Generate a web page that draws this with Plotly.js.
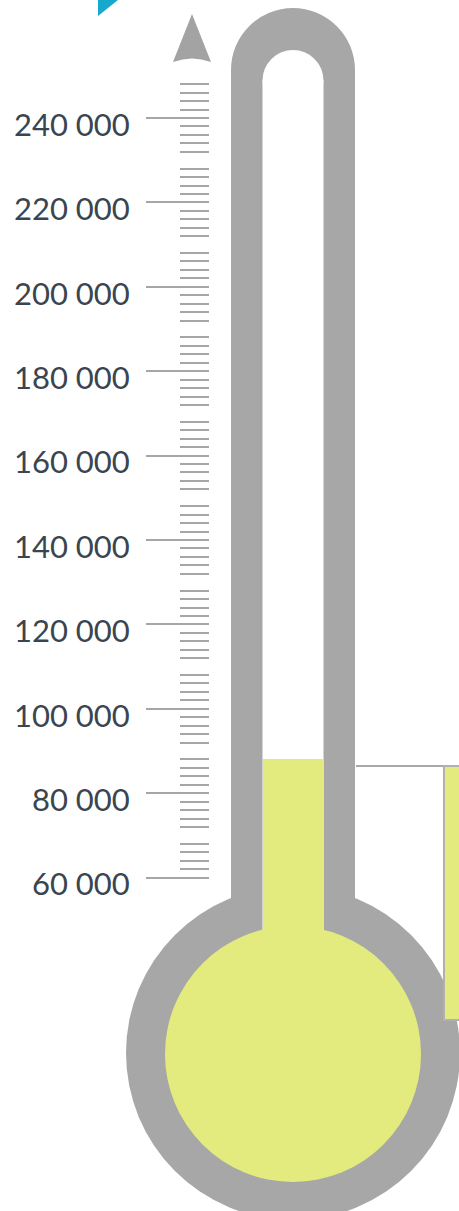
<!DOCTYPE html>
<html>
<head>
<meta charset="utf-8">
<script src="https://cdn.plot.ly/plotly-3.0.1.min.js"></script>
<style>html,body{margin:0;padding:0;background:#fff;}#chart{width:459px;height:1211px;}</style>
</head>
<body>
<div id="chart"></div>
<script>
// ---- data ----
const categories = ['Raised'];
const values = [88000];
const tickValues = [60000, 80000, 100000, 120000, 140000, 160000, 180000, 200000, 220000, 240000];
const tickLabels = ['60 000', '80 000', '100 000', '120 000', '140 000', '160 000', '180 000', '200 000', '220 000', '240 000'];

// ---- layout helpers ----
const W = 459, H = 1211;
const pxPerUnit = 84.4 / 20000;
const yAt240 = 118;
const vTop = 240000 + yAt240 / pxPerUnit;
const vBottom = 240000 - (H - yAt240) / pxPerUnit;
const baseValue = 30000;

const gray = '#a7a7a7';
const yellow = '#e3eb7f';
const tickGray = '#a6a6a6';

const minorVals = [], mediumVals = [];
for (let v = 62000; v <= 250000; v += 2000) {
  if (v % 20000 === 0) continue;
  if (v % 10000 === 0) mediumVals.push(v); else minorVals.push(v);
}

const axisPos = 209 / W;

const trace = {
  type: 'bar',
  x: [293],
  y: values.map(v => v - baseValue),
  base: [baseValue],
  width: [61],
  name: categories[0],
  marker: {color: yellow, line: {width: 0}},
  xaxis: 'x', yaxis: 'y',
  hoverinfo: 'skip'
};

const S = (o) => Object.assign({xref: 'x', yref: 'y3', layer: 'below'}, o);

const shapes = [
  // blue corner
  S({type: 'path', path: 'M98,0 L118,0 L98,16 Z', fillcolor: '#17a9cd', line: {width: 0}}),
  // arrow
  S({type: 'path', path: 'M173,62 L192,14 L211,62 Q192,55 173,62 Z', fillcolor: '#a3a3a3', line: {width: 0}}),
  // outer thermometer body
  S({type: 'circle', x0: 231, x1: 355, y0: 8, y1: 132, fillcolor: gray, line: {width: 0}}),
  S({type: 'rect', x0: 231, x1: 355, y0: 70, y1: 1000, fillcolor: gray, line: {width: 0}}),
  S({type: 'circle', x0: 126, x1: 460, y0: 886, y1: 1220, fillcolor: gray, line: {width: 0}}),
  // inner tube
  S({type: 'circle', x0: 262.5, x1: 323.5, y0: 50, y1: 111, fillcolor: '#ffffff', line: {width: 0}}),
  S({type: 'rect', x0: 262.5, x1: 323.5, y0: 80.5, y1: 960, fillcolor: '#ffffff', line: {width: 0}}),
  // bulb
  S({type: 'circle', x0: 165, x1: 421, y0: 926, y1: 1182, fillcolor: yellow, line: {width: 0}, layer: 'above'}),
  // connector + callout box
  S({type: 'line', x0: 356, x1: 444, y0: 766, y1: 766, line: {color: '#a9a9a9', width: 2}, layer: 'above'}),
  S({type: 'rect', x0: 444, x1: 475, y0: 766, y1: 1020, fillcolor: yellow, line: {color: '#b0b0b0', width: 2}, layer: 'above'})
];

const layout = {
  width: W, height: H,
  margin: {l: 0, r: 0, t: 0, b: 0, pad: 0},
  paper_bgcolor: '#ffffff', plot_bgcolor: 'rgba(0,0,0,0)',
  showlegend: false,
  bargap: 0,
  xaxis: {range: [0, W], visible: false, fixedrange: true},
  yaxis: {
    range: [vBottom, vTop], anchor: 'free', position: axisPos, side: 'left',
    showgrid: false, zeroline: false, showline: false, fixedrange: true,
    tickmode: 'array', tickvals: tickValues, ticktext: tickLabels,
    ticks: 'outside', ticklen: 63, tickwidth: 2, tickcolor: tickGray,
    ticklabelstandoff: 10, ticklabelshift: 7,
    tickfont: {family: 'Lato, "Open Sans", sans-serif', size: 31, color: '#3b4550'},
    minor: {tickmode: 'array', tickvals: minorVals, ticks: 'outside', ticklen: 29, tickwidth: 2, tickcolor: tickGray, showgrid: false}
  },
  yaxis2: {
    range: [vBottom, vTop], overlaying: 'y', anchor: 'free', position: axisPos, side: 'left',
    showgrid: false, zeroline: false, showline: false, fixedrange: true,
    tickmode: 'array', tickvals: mediumVals, showticklabels: false,
    ticks: 'outside', ticklen: 37, tickwidth: 2, tickcolor: tickGray
  },
  yaxis3: {range: [H, 0], overlaying: 'y', visible: false, fixedrange: true},
  shapes: shapes
};

Plotly.newPlot('chart', [trace], layout, {displayModeBar: false, staticPlot: true});
</script>
</body>
</html>
